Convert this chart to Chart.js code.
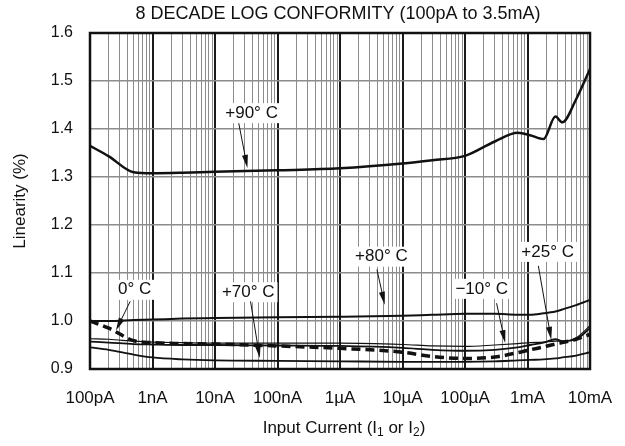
<!DOCTYPE html>
<html>
<head>
<meta charset="utf-8">
<script src="https://cdn.jsdelivr.net/npm/chart.js@4.4.1/dist/chart.umd.min.js"></script>
<style>
  html, body { margin: 0; padding: 0; background: #fff; }
  #wrap { width: 625px; height: 446px; }
</style>
</head>
<body>
<div id="wrap"><canvas id="chart" width="625" height="446"></canvas></div>
<script>
// input current (A), shared by all series
const current = [1e-10, 2e-10, 5e-10, 1e-9, 3e-9, 1e-8, 1e-7, 1e-6, 1e-5, 3e-5, 1e-4, 3e-4, 7e-4, 1.1e-3, 1.8e-3, 2.8e-3, 3.6e-3, 6e-3, 1e-2];

// linearity (%) per temperature
const lin90 = [1.365, 1.343, 1.31, 1.308, 1.309, 1.311, 1.314, 1.318, 1.328, 1.335, 1.344, 1.374, 1.392, 1.387, 1.379, 1.426, 1.414, 1.462, 1.525];
const lin80 = [1.0, 1.0, 1.002, 1.003, 1.005, 1.006, 1.008, 1.009, 1.011, 1.013, 1.015, 1.015, 1.013, 1.013, 1.016, 1.02, 1.024, 1.033, 1.044];
const lin70 = [0.945, 0.94, 0.93, 0.924, 0.92, 0.918, 0.917, 0.916, 0.915, 0.915, 0.915, 0.916, 0.918, 0.919, 0.92, 0.922, 0.924, 0.928, 0.935];
const lin25 = [0.957, 0.955, 0.952, 0.951, 0.95, 0.95, 0.949, 0.948, 0.944, 0.94, 0.938, 0.94, 0.945, 0.95, 0.955, 0.962, 0.958, 0.962, 0.985];
const lin0 = [1.0, 0.985, 0.959, 0.955, 0.953, 0.952, 0.948, 0.943, 0.935, 0.926, 0.922, 0.925, 0.934, 0.94, 0.946, 0.952, 0.955, 0.962, 0.972];
const linM10 = [0.963, 0.962, 0.958, 0.956, 0.955, 0.954, 0.954, 0.954, 0.951, 0.948, 0.947, 0.95, 0.953, 0.955, 0.956, 0.958, 0.958, 0.965, 0.99];

const xTickLabels = ['100pA', '1nA', '10nA', '100nA', '1\u00b5A', '10\u00b5A', '100\u00b5A', '1mA', '10mA'];
const yTicks = [0.9, 1.0, 1.1, 1.2, 1.3, 1.4, 1.5, 1.6];

// callouts: text, label centre, arrow tail, arrow tip (data coords)
const noteText = ['+90\u00b0 C', '+80\u00b0 C', '+70\u00b0 C', '+25\u00b0 C', '0\u00b0 C', '\u221210\u00b0 C'];
const noteX = [3.85e-8, 4.6e-6, 3.4e-8, 2.1e-3, 5.2e-10, 1.85e-4];
const noteY = [1.433, 1.134, 1.06, 1.144, 1.065, 1.067];
const tailX = [2.4e-8, 3.9e-6, 3.7e-8, 1.49e-3, 4.4e-10, 3.2e-4];
const tailY = [1.412, 1.107, 1.041, 1.115, 1.041, 1.037];
const tipX = [3.3e-8, 5.2e-6, 5.2e-8, 2.4e-3, 2.6e-10, 4.4e-4];
const tipY = [1.319, 1.034, 0.923, 0.961, 0.98, 0.954];

const FONT = 'Arial, "Liberation Sans", Helvetica, sans-serif';
const pts = ys => current.map((x, i) => ({ x, y: ys[i] }));

function series(label, ys, width, dash) {
  return {
    label, data: pts(ys), borderColor: '#111', borderWidth: width,
    borderDash: dash || [], pointRadius: 0, fill: false,
    cubicInterpolationMode: 'monotone'
  };
}

const decorations = {
  id: 'decorations',
  afterDatasetsDraw(chart) {
    const { ctx, scales: { x, y } } = chart;
    ctx.save();
    ctx.font = '17px ' + FONT;
    ctx.textAlign = 'center';
    ctx.textBaseline = 'middle';
    noteText.forEach((t, i) => {
      const cx = x.getPixelForValue(noteX[i]), cy = y.getPixelForValue(noteY[i]);
      const w = ctx.measureText(t).width;
      ctx.fillStyle = '#fff';
      ctx.fillRect(cx - w / 2 - 3, cy - 10, w + 6, 20);
      ctx.fillStyle = '#111';
      ctx.fillText(t, cx, cy);

      const x0 = x.getPixelForValue(tailX[i]), y0 = y.getPixelForValue(tailY[i]);
      const x1 = x.getPixelForValue(tipX[i]), y1 = y.getPixelForValue(tipY[i]);
      const a = Math.atan2(y1 - y0, x1 - x0);
      ctx.strokeStyle = '#111';
      ctx.lineWidth = 1;
      ctx.beginPath();
      ctx.moveTo(x0, y0);
      ctx.lineTo(x1 - 10 * Math.cos(a), y1 - 10 * Math.sin(a));
      ctx.stroke();
      ctx.beginPath();
      ctx.moveTo(x1, y1);
      ctx.lineTo(x1 - 13 * Math.cos(a) + 3 * Math.sin(a), y1 - 13 * Math.sin(a) - 3 * Math.cos(a));
      ctx.lineTo(x1 - 13 * Math.cos(a) - 3 * Math.sin(a), y1 - 13 * Math.sin(a) + 3 * Math.cos(a));
      ctx.closePath();
      ctx.fill();
    });
    ctx.restore();
  },
  afterDraw(chart) {
    const { ctx, chartArea: a } = chart;
    ctx.save();
    ctx.strokeStyle = '#111';
    ctx.lineWidth = 2.5;
    ctx.strokeRect(a.left, a.top, a.right - a.left, a.bottom - a.top);

    // title
    ctx.fillStyle = '#111';
    ctx.textAlign = 'center';
    ctx.textBaseline = 'middle';
    ctx.font = '18px ' + FONT;
    ctx.fillText('8 DECADE LOG CONFORMITY (100pA to 3.5mA)', 338, 14);

    // x axis title with subscripts
    const parts = [['Input Current (I', 0], ['1', 1], [' or I', 0], ['2', 1], [')', 0]];
    const fontFor = s => (s ? '12px ' : '17px ') + FONT;
    let total = 0;
    parts.forEach(([t, s]) => { ctx.font = fontFor(s); total += ctx.measureText(t).width; });
    let px = 344 - total / 2;
    ctx.textAlign = 'left';
    parts.forEach(([t, s]) => {
      ctx.font = fontFor(s);
      ctx.fillText(t, px, s ? 433 : 428);
      px += ctx.measureText(t).width;
    });
    ctx.restore();
  }
};

new Chart(document.getElementById('chart'), {
  type: 'line',
  data: {
    datasets: [
      series('+90\u00b0 C', lin90, 2.5),
      series('+80\u00b0 C', lin80, 2),
      series('+70\u00b0 C', lin70, 1.8),
      series('+25\u00b0 C', lin25, 1.8),
      series('0\u00b0 C', lin0, 3.5, [9, 5]),
      series('\u221210\u00b0 C', linM10, 1.2)
    ]
  },
  options: {
    responsive: false,
    animation: false,
    devicePixelRatio: 1,
    layout: { padding: { top: 33, right: 35, bottom: 0, left: 0 } },
    plugins: { legend: { display: false }, title: { display: false }, tooltip: { enabled: false } },
    scales: {
      x: {
        type: 'logarithmic',
        min: 1e-10, max: 1e-2,
        afterBuildTicks(scale) {
          const t = [];
          for (let e = -10; e < -2; e++) for (let m = 1; m <= 9; m++) t.push({ value: m * Math.pow(10, e) });
          t.push({ value: 1e-2 });
          scale.ticks = t;
        },
        afterFit(scale) { scale.height = 77; scale.paddingLeft = 0; scale.paddingRight = 0; },
        border: { display: false },
        grid: {
          drawTicks: false,
          color: c => (c.index % 9 === 0 ? '#1a1a1a' : '#8c8c8c'),
          lineWidth: c => (c.index % 9 === 0 ? 2 : 1)
        },
        ticks: {
          autoSkip: false, maxRotation: 0, minRotation: 0, padding: 19,
          color: '#111', font: { family: FONT, size: 17 },
          callback: (v, i) => (i % 9 === 0 ? xTickLabels[i / 9] : '')
        }
      },
      y: {
        min: 0.9, max: 1.6,
        afterBuildTicks(scale) { scale.ticks = yTicks.map(value => ({ value })); },
        afterFit(scale) { scale.width = 90; scale.paddingTop = 0; scale.paddingBottom = 0; },
        border: { display: false },
        grid: { drawTicks: false, color: '#8c8c8c', lineWidth: 1.5 },
        ticks: {
          padding: 17, color: '#111', font: { family: FONT, size: 16 },
          callback: v => v.toFixed(1)
        },
        title: {
          display: true, text: 'Linearity (%)', color: '#111',
          font: { family: FONT, size: 17 }, padding: { top: 10, bottom: 0 }
        }
      }
    }
  },
  plugins: [decorations]
});
</script>
</body>
</html>
